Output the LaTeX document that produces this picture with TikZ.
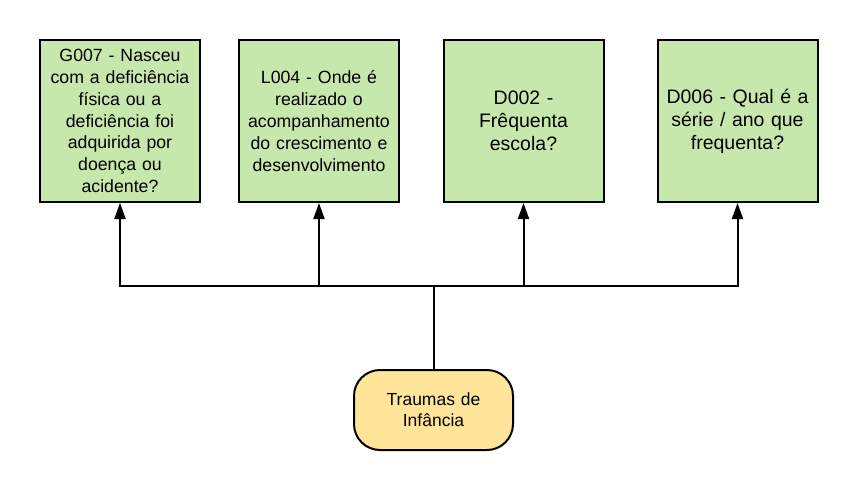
\documentclass[tikz,border=0pt]{standalone}
\usepackage{fontspec}
\setmainfont{Liberation Sans}
\usetikzlibrary{arrows.meta}
\definecolor{boxgreen}{HTML}{C7E8AC}
\definecolor{termyellow}{HTML}{FFE599}
\tikzset{
  qbox/.style={draw=black, line width=2pt, fill=boxgreen, minimum width=160pt, minimum height=162pt, inner sep=0pt, align=center, text width=156pt, font=\fontsize{17.7}{21.8}\selectfont},
  bigq/.style={qbox, font=\fontsize{19.5}{23}\selectfont},
  term/.style={draw=black, line width=2pt, fill=termyellow, minimum width=159pt, minimum height=80pt, rounded corners=26pt, inner sep=0pt, align=center, text width=150pt, font=\fontsize{17.5}{21}\selectfont},
  conn/.style={line width=2pt, -{Triangle[width=11pt,length=16pt]}},
}
\begin{document}
\begin{tikzpicture}[x=1pt,y=1pt]
\useasboundingbox (0,0) rectangle (857,-490);
\node[qbox] (b1) at (120,-121) {G007 - Nasceu\\com a deficiência\\física ou a\\deficiência foi\\adquirida por\\doença ou\\acidente?};
\node[qbox] (b2) at (319,-121) {L004 - Onde é\\realizado o\\acompanhamento\\do crescimento e\\desenvolvimento\\[21.8pt]};
\node[bigq] (b3) at (523.5,-121) {D002 -\\Frêquenta\\escola?};
\node[bigq] (b4) at (737.5,-121) {D006 - Qual é a\\série / ano que\\frequenta?};
\node[term] (t) at (433.5,-410) {Traumas de\\Infância};
\coordinate (j) at (433.5,-286);
\draw[line width=2pt] (t.north) -- (j);
\draw[conn] (j) -| (b1.south);
\draw[conn] (j) -| (b2.south);
\draw[conn] (j) -| (b3.south);
\draw[conn] (j) -| (b4.south);
\end{tikzpicture}
\end{document}
